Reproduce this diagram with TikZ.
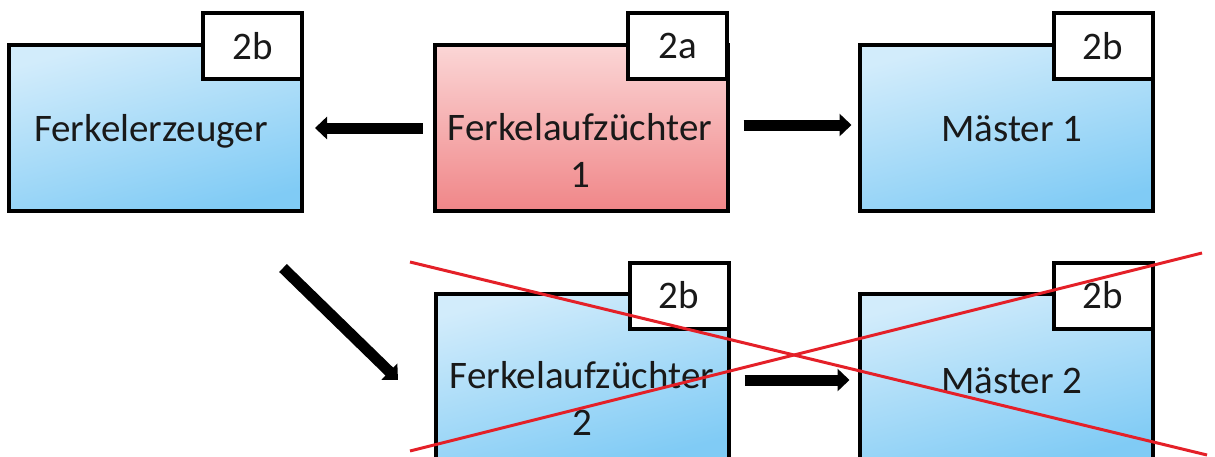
\documentclass[tikz,border=0pt]{standalone}
\usepackage{fontspec}
\setmainfont{Carlito}
\usetikzlibrary{arrows.meta}
\definecolor{bluetop}{RGB}{210,236,251}
\definecolor{bluebot}{RGB}{128,203,245}
\definecolor{redtop}{RGB}{251,214,214}
\definecolor{redbot}{RGB}{240,134,136}
\definecolor{xred}{RGB}{228,32,40}
\definecolor{txt}{RGB}{25,25,25}
\begin{document}
\begin{tikzpicture}[x=0.5pt,y=-0.5pt,
  box/.style={draw=black, line width=2pt, minimum width=146.5pt, minimum height=83pt, inner sep=0pt, outer sep=0pt},
  bluebox/.style={box, top color=bluetop, bottom color=bluebot, shading angle=15},
  redbox/.style={box, top color=redtop, bottom color=redbot},
  tabbox/.style={draw=black, fill=white, line width=2pt, minimum width=49.5pt, minimum height=33pt, inner sep=0pt, text=txt, font=\fontsize{19.5}{23.5}\selectfont},
  lbl/.style={font=\fontsize{19.5}{23.5}\selectfont, text=txt, align=center, anchor=base, inner sep=0pt},
  flow/.style={line width=5.5pt, -{Triangle[width=11pt,length=6pt]}},
  cross/.style={draw=xred, line width=1.5pt}]
\useasboundingbox (0,0) rectangle (1215,456);
\clip (0,0) rectangle (1215,456);
% top row
\node[bluebox] (fe) at (155.5,128) {};
\node[tabbox] (fetab) at (252.5,46) {2b};
\node[lbl] (fetxt) at (151,141) {Ferkelerzeuger};
\node[redbox] (fa1) at (581,128) {};
\node[tabbox] (fa1tab) at (677.5,46) {2a};
\node[lbl] (fa1txt) at (580,187) {Ferkelaufzüchter\\1};
\node[bluebox] (ma1) at (1006,128) {};
\node[tabbox] (ma1tab) at (1103,46) {2b};
\node[lbl] (ma1txt) at (1012,141) {Mäster 1};
% bottom row
\node[bluebox] (fa2) at (582,377) {};
\node[tabbox] (fa2tab) at (679,295.5) {2b};
\node[lbl] (fa2txt) at (582,435) {Ferkelaufzüchter\\2};
\node[bluebox] (ma2) at (1006,377) {};
\node[tabbox] (ma2tab) at (1103,295.5) {2b};
\node[lbl] (ma2txt) at (1012,393) {Mäster 2};
% arrows
\draw[flow, shorten <=6pt, shorten >=6.5pt] (fa1.west) -- (fe.east);
\draw[flow, shorten <=8pt, shorten >=4pt] ([yshift=1.5pt]fa1.east) -- ([yshift=1.5pt]ma1.west);
\coordinate (d1) at (283,268);
\coordinate (d2) at (398,380);
\draw[flow] (d1) -- (d2);
\draw[flow, shorten <=8pt, shorten >=5pt] ([yshift=-1.5pt]fa2.east) -- ([yshift=-1.5pt]ma2.west);
% red cross
\coordinate (xa1) at (410,262);
\coordinate (xa2) at (1207,455);
\coordinate (xb1) at (410,451);
\coordinate (xb2) at (1202,253);
\draw[cross] (xa1) -- (xa2);
\draw[cross] (xb1) -- (xb2);
\end{tikzpicture}
\end{document}
